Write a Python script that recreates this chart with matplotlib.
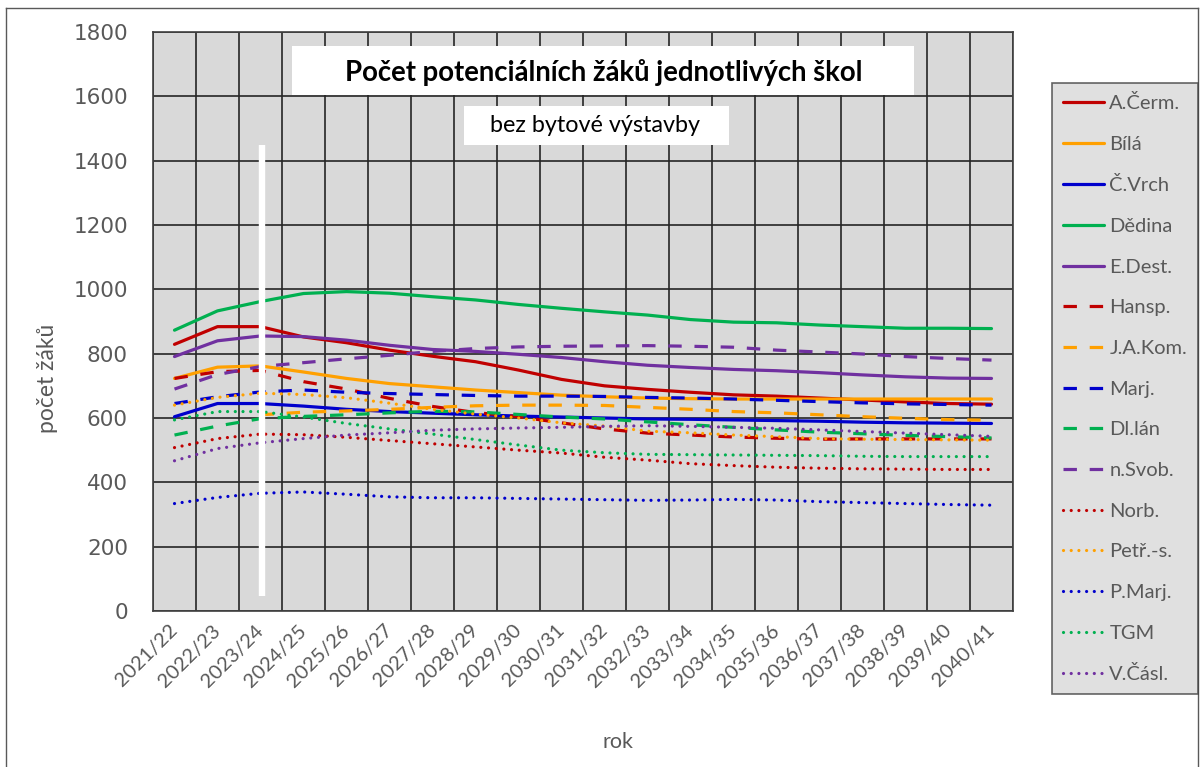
import numpy as np
import matplotlib
matplotlib.use("Agg")
import matplotlib.pyplot as plt
from matplotlib.patches import Rectangle
from matplotlib.lines import Line2D

years = ["2021/22", "2022/23", "2023/24", "2024/25", "2025/26", "2026/27", "2027/28",
         "2028/29", "2029/30", "2030/31", "2031/32", "2032/33", "2033/34", "2034/35",
         "2035/36", "2036/37", "2037/38", "2038/39", "2039/40", "2040/41"]

a_cerm = [829, 884, 884, 852, 834, 811, 792, 775, 749, 720, 700, 689, 680, 672, 668, 662, 656, 650, 645, 643]
bila = [723, 758, 762, 743, 723, 707, 697, 687, 679, 671, 666, 662, 660, 659, 659, 659, 659, 659, 659, 659]
c_vrch = [604, 645, 645, 637, 627, 620, 615, 610, 606, 603, 600, 597, 596, 594, 592, 590, 587, 585, 584, 583]
dedina = [873, 933, 962, 987, 993, 988, 977, 967, 953, 941, 930, 920, 906, 898, 896, 889, 884, 879, 879, 878]
e_dest = [791, 840, 855, 853, 842, 826, 813, 807, 798, 788, 775, 764, 757, 751, 747, 741, 734, 728, 724, 723]
hansp = [723, 744, 748, 713, 690, 661, 636, 617, 604, 585, 566, 553, 547, 541, 537, 534, 535, 535, 535, 535]
ja_kom = [np.nan, np.nan, 610, 618, 622, 627, 633, 638, 640, 640, 639, 633, 627, 620, 616, 610, 604, 599, 595, 593]
marj = [645, 666, 681, 687, 680, 676, 673, 670, 668, 668, 667, 664, 662, 659, 655, 651, 647, 644, 642, 640]
dl_lan = [547, 575, 598, 605, 610, 616, 621, 619, 611, 603, 597, 588, 579, 571, 563, 556, 551, 546, 542, 538]
n_svob = [690, 735, 760, 772, 784, 795, 807, 816, 821, 823, 824, 825, 823, 820, 811, 805, 799, 791, 785, 780]
norb = [508, 536, 550, 548, 540, 530, 520, 510, 500, 491, 478, 469, 458, 452, 447, 444, 442, 441, 440, 440]
petr_s = [640, 664, 677, 673, 663, 646, 627, 612, 600, 585, 575, 559, 554, 547, 542, 536, 534, 533, 532, 531]
p_marj = [334, 353, 366, 370, 363, 355, 352, 352, 350, 348, 346, 344, 345, 347, 345, 340, 337, 334, 331, 329]
tgm = [594, 620, 620, 603, 583, 566, 550, 533, 516, 500, 492, 487, 486, 485, 484, 483, 481, 480, 480, 480]
v_casl = [467, 505, 523, 536, 547, 554, 562, 566, 569, 571, 574, 576, 574, 571, 568, 563, 558, 553, 548, 543]

names = ["A.Čerm.", "Bílá", "Č.Vrch", "Dědina", "E.Dest.", "Hansp.", "J.A.Kom.", "Marj.",
         "Dl.lán", "n.Svob.", "Norb.", "Petř.-s.", "P.Marj.", "TGM", "V.Čásl."]
series = [a_cerm, bila, c_vrch, dedina, e_dest, hansp, ja_kom, marj, dl_lan, n_svob,
          norb, petr_s, p_marj, tgm, v_casl]

RED, ORANGE, BLUE, GREEN, PURPLE = "#c00000", "#ffa000", "#0000cc", "#00b050", "#7030a0"
colors = [RED, ORANGE, BLUE, GREEN, PURPLE] * 3
styles = ["solid"] * 5 + ["dashed"] * 5 + ["dotted"] * 5

W, H = 1203, 767
fig = plt.figure(figsize=(W / 100, H / 100), dpi=100)
fig.patch.set_facecolor("white")

def fx(px):
    return px / W

def fy(py):
    return 1 - py / H

ax = fig.add_axes([fx(153), fy(611), fx(1013) - fx(153), fy(32) - fy(611)])
ax.set_facecolor("#d9d9d9")

x = np.arange(len(years))
LW = 2.3
for vals, name, col, st in zip(series, names, colors, styles):
    if st == "solid":
        ls = "-"
        cap = "butt"
    elif st == "dashed":
        ls = (0, (4.2, 4.0))
        cap = "butt"
    else:
        ls = (0, (0.01, 2.4))
        cap = "round"
    ax.plot(x, vals, color=col, lw=LW, linestyle=ls, solid_capstyle="round",
            dash_capstyle=cap, label=name, zorder=3)

# white vertical marker line
ax.plot([2.03, 2.03], [48, 1450], color="white", lw=4.6, solid_capstyle="butt", zorder=4)

ax.set_xlim(-0.5, len(years) - 0.5)
ax.set_ylim(0, 1800)
ax.set_yticks(np.arange(0, 1801, 200))
ax.set_xticks(x)
ax.set_xticklabels(years, rotation=45, ha="right", va="center", rotation_mode="anchor",
                   fontsize=14.5, color="#595959", family="Lato")
ax.set_xticks(np.arange(-0.5, len(years), 1), minor=True)
ax.grid(True, which="minor", axis="x", color="#262626", lw=1.2, zorder=1)
ax.grid(True, which="major", axis="y", color="#262626", lw=1.2, zorder=1)
ax.set_axisbelow(True)
ax.tick_params(axis="x", which="both", length=0, pad=12)
ax.tick_params(axis="y", length=0, pad=18, labelsize=15.5, labelcolor="#595959")
for lab in ax.get_yticklabels():
    lab.set_family("DejaVu Sans")
for sp in ax.spines.values():
    sp.set_color("#404040")
    sp.set_linewidth(1.2)

fig.text(fx(618), fy(742), "rok", ha="center", va="center", fontsize=15.5,
         color="#595959", family="Lato")
fig.text(fx(48), fy(378), "počet žáků", ha="center", va="center", rotation=90,
         fontsize=16.5, color="#595959", family="Lato")

# title boxes
fig.patches.append(Rectangle((fx(292), fy(95)), fx(914) - fx(292), fy(46) - fy(95),
                             transform=fig.transFigure, facecolor="white",
                             edgecolor="none", zorder=5))
fig.text(fx(604), fy(72), "Počet potenciálních žáků jednotlivých škol", ha="center",
         va="center", fontsize=19.8, fontweight="bold", color="black", family="Lato", zorder=6)
fig.patches.append(Rectangle((fx(464), fy(145)), fx(729) - fx(464), fy(106) - fy(145),
                             transform=fig.transFigure, facecolor="white",
                             edgecolor="none", zorder=5))
fig.text(fx(595), fy(126), "bez bytové výstavby", ha="center", va="center",
         fontsize=16.8, color="black", family="Lato", zorder=6)

# outer border
fig.add_artist(Line2D([fx(6), fx(6)], [fy(8), fy(767)], transform=fig.transFigure,
                      color="#595959", lw=1))
fig.add_artist(Line2D([fx(6), fx(1198)], [fy(8), fy(8)], transform=fig.transFigure,
                      color="#595959", lw=1))
fig.add_artist(Line2D([fx(1198), fx(1198)], [fy(8), fy(767)], transform=fig.transFigure,
                      color="#595959", lw=1))

handles, labels = ax.get_legend_handles_labels()
leg = fig.legend(handles, labels, loc="upper left", bbox_to_anchor=(fx(1052), fy(83)),
                 bbox_transform=fig.transFigure, frameon=True, fancybox=False,
                 handlelength=2.05, handletextpad=0.25, labelspacing=1.17,
                 borderpad=0.55, borderaxespad=0, prop={"family": "Lato", "size": 14.5})
leg.get_frame().set_facecolor("#d9d9d9")
leg.get_frame().set_edgecolor("#404040")
leg.get_frame().set_linewidth(1.2)
for t in leg.get_texts():
    t.set_color("#595959")

fig.savefig("out.png", dpi=100)
